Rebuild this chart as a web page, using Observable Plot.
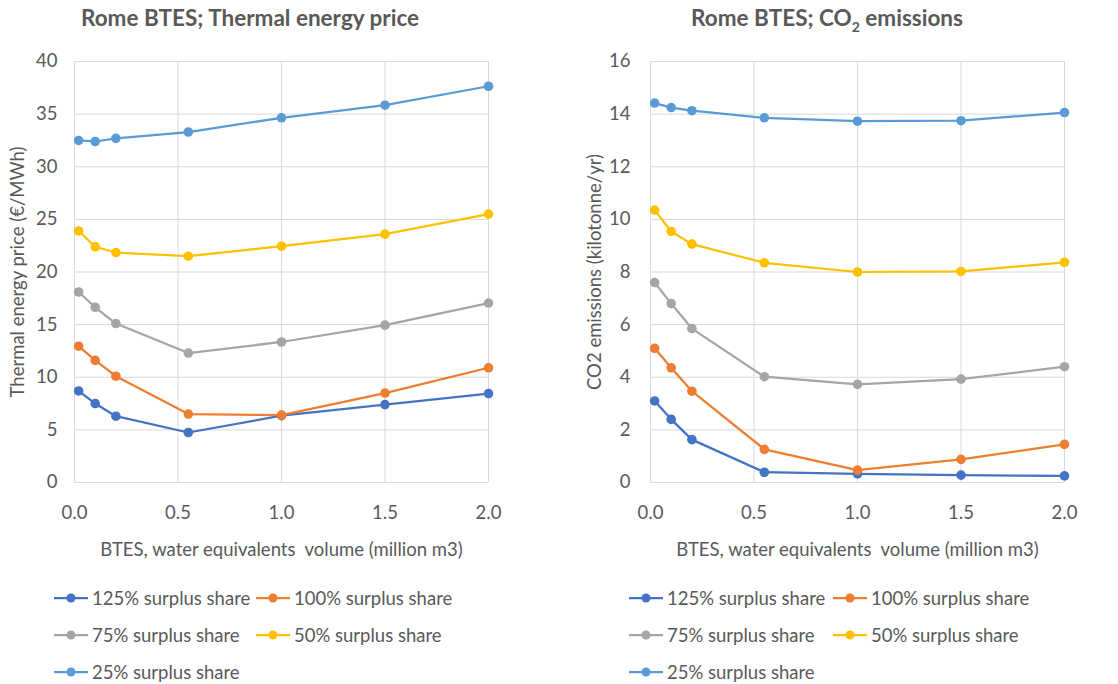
<!DOCTYPE html>
<html>
<head>
<meta charset="utf-8">
<script src="https://cdn.jsdelivr.net/npm/d3@7"></script>
<script src="https://cdn.jsdelivr.net/npm/@observablehq/plot@0.6"></script>
<style>
  html, body { margin: 0; padding: 0; background: #fff; }
  #root { position: relative; width: 1118px; height: 684px; font-family: Lato, "Open Sans", sans-serif; color: #595959; overflow: hidden; }
  .title { position: absolute; top: 4px; font-weight: bold; font-size: 22.5px; white-space: nowrap; transform: translateX(-50%); }
  .chart { position: absolute; top: 45px; }
  .leg { position: absolute; display: flex; align-items: center; font-size: 18.5px; white-space: nowrap; transform: translateY(-50%); }
  .leg svg { margin-right: 4px; }
</style>
</head>
<body>
<div id="root"></div>
<script>
// ---- data ----
const volume = [0.02, 0.1, 0.2, 0.55, 1.0, 1.5, 2.0];
const seriesNames = ["125% surplus share", "100% surplus share", "75% surplus share", "50% surplus share", "25% surplus share"];
const seriesColors = ["#4472C4", "#ED7D31", "#A5A5A5", "#FFC000", "#5B9BD5"];

// Thermal energy price (€/MWh)
const price125 = [8.7, 7.5, 6.3, 4.75, 6.35, 7.4, 8.45];
const price100 = [12.95, 11.6, 10.1, 6.5, 6.4, 8.5, 10.9];
const price75 = [18.1, 16.65, 15.1, 12.3, 13.35, 14.95, 17.05];
const price50 = [23.9, 22.4, 21.85, 21.5, 22.45, 23.6, 25.5];
const price25 = [32.5, 32.4, 32.7, 33.3, 34.65, 35.85, 37.65];

// CO2 emissions (kilotonne/yr)
const co2_125 = [3.1, 2.4, 1.63, 0.39, 0.33, 0.28, 0.25];
const co2_100 = [5.1, 4.36, 3.47, 1.26, 0.47, 0.88, 1.45];
const co2_75 = [7.6, 6.8, 5.85, 4.02, 3.73, 3.93, 4.4];
const co2_50 = [10.35, 9.54, 9.06, 8.35, 8.0, 8.02, 8.37];
const co2_25 = [14.42, 14.25, 14.13, 13.86, 13.73, 13.75, 14.06];

const xTicks = [0, 0.5, 1.0, 1.5, 2.0];
const priceTicks = [0, 5, 10, 15, 20, 25, 30, 35, 40];
const co2Ticks = [0, 2, 4, 6, 8, 10, 12, 14, 16];

const titleLeft = "Rome BTES; Thermal energy price";
const titleRightHTML = "Rome BTES; CO<sub style='font-size:14px'>2</sub> emissions";
const xLabel = "BTES, water equivalents  volume (million m3)";
const yLabelLeft = "Thermal energy price (€/MWh)";
const yLabelRight = "CO2 emissions (kilotonne/yr)";

function toRows(arrays) {
  const rows = [];
  arrays.forEach((arr, i) => arr.forEach((v, j) => rows.push({series: seriesNames[i], x: volume[j], y: v})));
  return rows;
}
const priceRows = toRows([price125, price100, price75, price50, price25]);
const co2Rows = toRows([co2_125, co2_100, co2_75, co2_50, co2_25]);

const root = document.getElementById("root");

function makeChart(rows, yDomain, yTicks, yLabel, opts) {
  return Plot.plot({
    width: 559,
    height: 515,
    marginTop: 16,
    marginBottom: 78,
    marginLeft: opts.ml,
    marginRight: opts.mr,
    style: {fontFamily: "Lato, 'Open Sans', sans-serif", fontSize: "18.5px", color: "#595959", background: "transparent", overflow: "visible"},
    x: {domain: [0, 2]},
    y: {domain: yDomain},
    color: {domain: seriesNames, range: seriesColors},
    marks: [
      Plot.gridX(xTicks, {stroke: "#D9D9D9", strokeOpacity: 1, strokeWidth: 1}),
      Plot.gridY(yTicks, {stroke: "#D9D9D9", strokeOpacity: 1, strokeWidth: 1}),
      Plot.axisX(xTicks, {tickSize: 0, tickPadding: 23, tickFormat: d3.format(".1f"), label: xLabel, labelAnchor: "center", labelArrow: "none", labelOffset: 73, fill: "#595959"}),
      Plot.axisY(yTicks, {tickSize: 0, tickPadding: opts.tp, label: yLabel, labelAnchor: "center", labelArrow: "none", labelOffset: opts.lo, fill: "#595959"}),
      Plot.line(rows, {x: "x", y: "y", z: "series", stroke: "series", strokeWidth: 2.25}),
      Plot.dot(rows, {x: "x", y: "y", fill: "series", r: 4.8})
    ]
  });
}

const left = makeChart(priceRows, [0, 40], priceTicks, yLabelLeft, {ml: 74, mr: 71, tp: 17, lo: 64});
left.classList.add("chart");
left.style.left = "0px";
root.appendChild(left);

const right = makeChart(co2Rows, [0, 16], co2Ticks, yLabelRight, {ml: 91, mr: 54, tp: 20, lo: 63});
right.classList.add("chart");
right.style.left = "559px";
root.appendChild(right);

function addTitle(html, cx) {
  const d = document.createElement("div");
  d.className = "title";
  d.innerHTML = html;
  d.style.left = cx + "px";
  root.appendChild(d);
}
addTitle(titleLeft, 250);
addTitle(titleRightHTML, 827);

function addLegend(x1, x2) {
  const pos = [[x1, 598], [x2, 598], [x1, 635], [x2, 635], [x1, 672]];
  seriesNames.forEach((name, i) => {
    const d = document.createElement("div");
    d.className = "leg";
    d.style.left = pos[i][0] + "px";
    d.style.top = pos[i][1] + "px";
    const c = seriesColors[i];
    d.innerHTML = `<svg width="34" height="12"><line x1="0" x2="34" y1="6" y2="6" stroke="${c}" stroke-width="2.25"/><circle cx="17" cy="6" r="4.5" fill="${c}"/></svg><span>${name}</span>`;
    root.appendChild(d);
  });
}
addLegend(54, 256);
addLegend(629, 833);
</script>
</body>
</html>
